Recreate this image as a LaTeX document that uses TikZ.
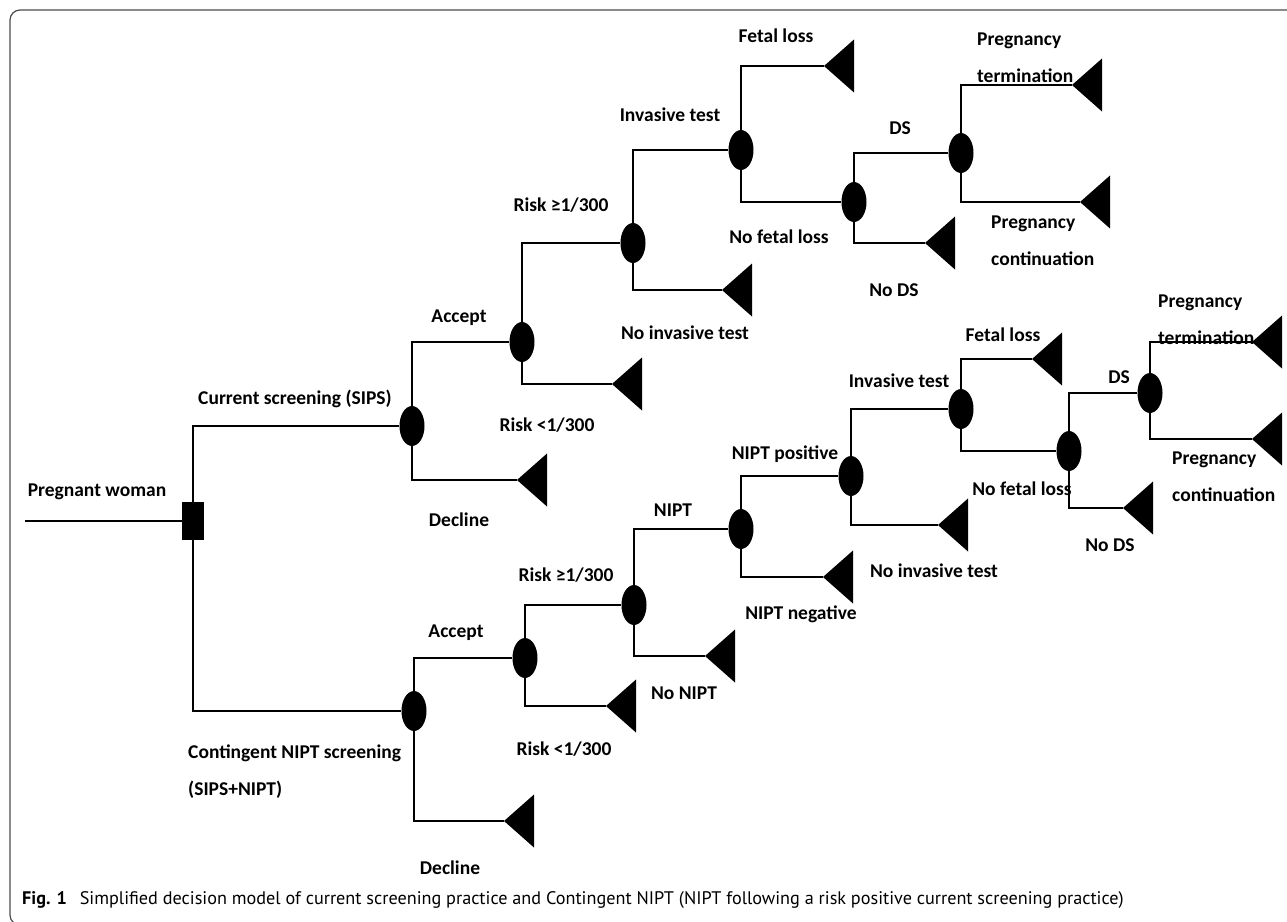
\documentclass[tikz,border=0pt]{standalone}
\usepackage{fontspec}
\setmainfont{Carlito}
\newfontfamily\capfont{PT Sans}
\usetikzlibrary{shapes.geometric, positioning}
\tikzset{
  chance/.style={ellipse, fill=black, minimum width=25pt, minimum height=40pt, inner sep=0pt},
  decision/.style={rectangle, fill=black, minimum width=22pt, minimum height=38pt, inner sep=0pt},
  branch/.style={line width=1.6pt},
  lbl/.style={font=\bfseries\fontsize{19.5}{21}\selectfont, inner sep=0pt},
  lbltwo/.style={font=\bfseries\fontsize{19.5}{37}\selectfont, inner sep=0pt, align=left, anchor=west}
}

\begin{document}
\begin{tikzpicture}[x=1pt, y=-1pt]
\useasboundingbox (0,0) rectangle (1287,921);
\clip (0,0) rectangle (1287,921);
\draw[black!70, line width=1.2pt, rounded corners=10pt] (10,10) rectangle (1320,925);

% decision and chance nodes
\coordinate (start) at (25,521);
\node[decision] (root) at (193,521) {};
\node[chance] (sips) at (412,426) {};
\node[chance] (sacc) at (522,342) {};
\node[chance] (srisk) at (633,243) {};
\node[chance] (sinv) at (741,150) {};
\node[chance] (snfl) at (854,202) {};
\node[chance] (sds) at (961,153) {};
\node[chance] (cont) at (414,711) {};
\node[chance] (cacc) at (525,658) {};
\node[chance] (crisk) at (634,605) {};
\node[chance] (cnipt) at (741,529) {};
\node[chance] (cpos) at (851,476) {};
\node[chance] (cinv) at (961,409) {};
\node[chance] (cnfl) at (1069,451) {};
\node[chance] (cds) at (1150,393) {};

% terminal nodes (tip of each triangle)
\coordinate (tsdec) at (517,480);
\coordinate (tslow) at (612,384);
\coordinate (tsnoinv) at (722,290);
\coordinate (tsfl) at (824,66);
\coordinate (tsnods) at (925,243);
\coordinate (tsterm) at (1072,85);
\coordinate (tscont) at (1080,202);
\coordinate (tcdec) at (504,821);
\coordinate (tclow) at (606,706);
\coordinate (tcnon) at (705,656);
\coordinate (tcneg) at (823,577);
\coordinate (tcnoinv) at (938,525);
\coordinate (tcfl) at (1032,359);
\coordinate (tcnods) at (1123,508);
\coordinate (tcterm) at (1252,342);
\coordinate (tccont) at (1252,439);
\foreach \t in {tsdec,tslow,tsnoinv,tsfl,tsnods,tsterm,tscont,tcdec,tclow,tcnon,tcneg,tcnoinv,tcfl,tcnods,tcterm,tccont}
  \fill (\t) -- ++(30,-26.5) -- ++(0,53) -- cycle;

% branches
\draw[branch] (start) -- (root);
\draw[branch] (root) |- (sips);
\draw[branch] (root) |- (cont);
\draw[branch] (sips) |- (sacc);
\draw[branch] (sips) |- (tsdec);
\draw[branch] (sacc) |- (srisk);
\draw[branch] (sacc) |- (tslow);
\draw[branch] (srisk) |- (sinv);
\draw[branch] (srisk) |- (tsnoinv);
\draw[branch] (sinv) |- (tsfl);
\draw[branch] (sinv) |- (snfl);
\draw[branch] (snfl) |- (sds);
\draw[branch] (snfl) |- (tsnods);
\draw[branch] (sds) |- (tsterm);
\draw[branch] (sds) |- (tscont);
\draw[branch] (cont) |- (cacc);
\draw[branch] (cont) |- (tcdec);
\draw[branch] (cacc) |- (crisk);
\draw[branch] (cacc) |- (tclow);
\draw[branch] (crisk) |- (cnipt);
\draw[branch] (crisk) |- (tcnon);
\draw[branch] (cnipt) |- (cpos);
\draw[branch] (cnipt) |- (tcneg);
\draw[branch] (cpos) |- (cinv);
\draw[branch] (cpos) |- (tcnoinv);
\draw[branch] (cinv) |- (tcfl);
\draw[branch] (cinv) |- (cnfl);
\draw[branch] (cnfl) |- (cds);
\draw[branch] (cnfl) |- (tcnods);
\draw[branch] (cds) |- (tcterm);
\draw[branch] (cds) |- (tccont);

% labels
\node[lbl] (lwoman) at (97,492) {Pregnant woman};
\node[lbl] (lsips) at (295,399) {Current screening (SIPS)};
\node[lbl] (lsacc) at (459,318) {Accept};
\node[lbl] (lsdec) at (459,520) {Decline};
\node[lbl] (lshigh) at (561,205) {Risk ≥1/300};
\node[lbl] (lslow) at (547,425) {Risk <1/300};
\node[lbl] (lsinv) at (670,115) {Invasive test};
\node[lbl] (lsnoinv) at (685,333) {No invasive test};
\node[lbl] (lsfl) at (776,36) {Fetal loss};
\node[lbl] (lsnfl) at (779,237) {No fetal loss};
\node[lbl] (lsds) at (900,128) {DS};
\node[lbl] (lsnods) at (894,290) {No DS};
\node[lbltwo] (lsterm) at (977,58) {Pregnancy\\termination};
\node[lbltwo] (lscont) at (991,241) {Pregnancy\\continuation};
\node[lbltwo] (lcont) at (188,772) {Contingent NIPT screening\\(SIPS+NIPT)};
\node[lbl] (lcacc) at (456,633) {Accept};
\node[lbl] (lcdec) at (450,868) {Decline};
\node[lbl] (lchigh) at (566,575) {Risk ≥1/300};
\node[lbl] (lclow) at (564,749) {Risk <1/300};
\node[lbl] (lcnipt) at (673,510) {NIPT};
\node[lbl] (lcnon) at (684,693) {No NIPT};
\node[lbl] (lcpos) at (785,454) {NIPT positive};
\node[lbl] (lcneg) at (801,614) {NIPT negative};
\node[lbl] (lcinv) at (899,381) {Invasive test};
\node[lbl] (lcnoinv) at (934,571) {No invasive test};
\node[lbl] (lcfl) at (1003,335) {Fetal loss};
\node[lbl] (lcnfl) at (1022,489) {No fetal loss};
\node[lbl] (lcds) at (1119,377) {DS};
\node[lbl] (lcnods) at (1110,545) {No DS};
\node[lbltwo] (lcterm) at (1158,320) {Pregnancy\\termination};
\node[lbltwo] (lccont) at (1172,477) {Pregnancy\\continuation};

% caption
\node[anchor=west, inner sep=0pt, font=\capfont\fontsize{18.2}{22}\selectfont] (caption) at (22,900)
  {\textbf{Fig. 1}\hspace{0.7em}Simplified decision model of current screening practice and Contingent NIPT (NIPT following a risk positive current screening practice)};
\end{tikzpicture}
\end{document}
